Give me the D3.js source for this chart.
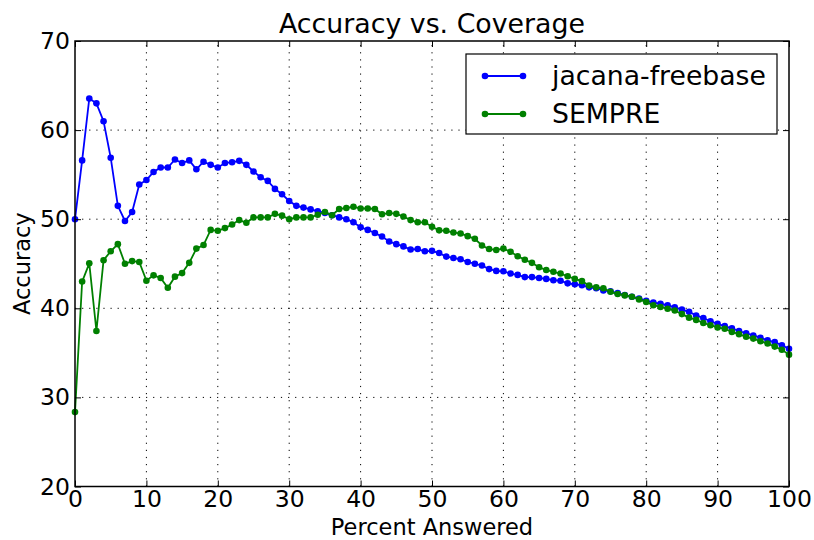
<!DOCTYPE html>
<html><head><meta charset="utf-8">
<script src="https://cdn.jsdelivr.net/npm/d3@7"></script>
<style>body{margin:0;background:#fff} text{font-family:"DejaVu Sans",sans-serif;fill:#000}</style>
</head><body><svg id="c" width="814" height="540"></svg>
<script>
const percent = [0,1,2,3,4,5,6,7,8,9,10,11,12,13,14,15,16,17,18,19,20,21,22,23,24,25,26,27,28,29,30,31,32,33,34,35,36,37,38,39,40,41,42,43,44,45,46,47,48,49,50,51,52,53,54,55,56,57,58,59,60,61,62,63,64,65,66,67,68,69,70,71,72,73,74,75,76,77,78,79,80,81,82,83,84,85,86,87,88,89,90,91,92,93,94,95,96,97,98,99,100];
const jacana = [50.0,56.6,63.55,63.0,61.0,56.9,51.5,49.8,50.8,53.9,54.4,55.3,55.8,55.8,56.7,56.3,56.6,55.6,56.45,56.1,55.8,56.3,56.4,56.55,56.1,55.35,54.7,54.3,53.4,52.8,52.05,51.5,51.3,51.1,50.9,50.7,50.45,50.2,50.0,49.65,49.1,48.8,48.45,48.05,47.5,47.2,46.95,46.6,46.65,46.4,46.45,46.2,45.8,45.65,45.5,45.2,45.0,44.8,44.4,44.2,44.15,43.9,43.75,43.5,43.5,43.4,43.3,43.15,43.1,42.8,42.7,42.6,42.35,42.25,42.0,41.9,41.7,41.5,41.3,41.1,40.85,40.65,40.5,40.35,40.1,39.85,39.6,39.2,38.9,38.55,38.25,38.0,37.75,37.45,37.2,36.95,36.7,36.4,36.2,35.85,35.45];
const sempre = [28.35,43.0,45.05,37.45,45.4,46.4,47.2,45.0,45.3,45.2,43.1,43.7,43.4,42.3,43.55,43.95,45.1,46.7,47.1,48.8,48.7,49.0,49.4,49.9,49.6,50.2,50.2,50.2,50.6,50.4,50.0,50.2,50.2,50.2,50.5,50.8,50.45,51.15,51.25,51.4,51.2,51.2,51.15,50.55,50.7,50.6,50.3,49.9,49.65,49.65,49.15,48.75,48.7,48.5,48.4,48.1,47.8,47.05,46.65,46.55,46.7,46.35,45.85,45.45,45.1,44.6,44.3,44.1,43.9,43.6,43.3,43.05,42.55,42.35,42.25,41.85,41.6,41.45,41.3,41.0,40.7,40.35,40.15,39.95,39.75,39.35,38.95,38.7,38.35,38.1,37.85,37.7,37.35,37.1,36.8,36.6,36.3,36.05,35.7,35.35,34.8];
const seriesNames = ["jacana-freebase","SEMPRE"];
const seriesColors = ["#0000ff","#008000"];
const xTicks = [0,10,20,30,40,50,60,70,80,90,100];
const yTicks = [20,30,40,50,60,70];

const W = 814, H = 540;
const m = {left:75, right:25, top:41, bottom:53.5};
const svg = d3.select("#c");
const x = d3.scaleLinear().domain([0,100]).range([m.left, W-m.right]);
const y = d3.scaleLinear().domain([20,70]).range([H-m.bottom, m.top]);

// grid
const grid = svg.append("g").attr("stroke","#000").attr("stroke-width",1).attr("stroke-dasharray","1.2,5.9");
grid.selectAll(".gx").data(xTicks.slice(1,-1)).join("line")
  .attr("x1",d=>x(d)).attr("x2",d=>x(d)).attr("y1",y(20)).attr("y2",y(70));
grid.selectAll(".gy").data(yTicks.slice(1,-1)).join("line")
  .attr("y1",d=>y(d)).attr("y2",d=>y(d)).attr("x1",x(0)).attr("x2",x(100));

// data
const series = [jacana, sempre];
const line = d3.line().x((d,i)=>x(percent[i])).y(d=>y(d));
series.forEach((s,k)=>{
  const g = svg.append("g");
  g.append("path").datum(s).attr("d",line).attr("fill","none")
    .attr("stroke",seriesColors[k]).attr("stroke-width",1.8);
  g.selectAll("circle").data(s).join("circle")
    .attr("cx",(d,i)=>x(percent[i])).attr("cy",d=>y(d)).attr("r",3.3)
    .attr("fill",seriesColors[k]);
});

// axes
const fs = 23.5;
const ax = svg.append("g").attr("transform",`translate(0,${y(20)})`)
  .call(d3.axisBottom(x).tickValues(xTicks).tickSizeInner(-6).tickSizeOuter(0).tickPadding(4).tickFormat(d3.format("d")));
const axT = svg.append("g").attr("transform",`translate(0,${y(70)})`)
  .call(d3.axisTop(x).tickValues(xTicks).tickSizeInner(-6).tickSizeOuter(0).tickFormat(""));
const ay = svg.append("g").attr("transform",`translate(${x(0)},0)`)
  .call(d3.axisLeft(y).tickValues(yTicks).tickSizeInner(-6).tickSizeOuter(0).tickPadding(5).tickFormat(d3.format("d")));
const ayR = svg.append("g").attr("transform",`translate(${x(100)},0)`)
  .call(d3.axisRight(y).tickValues(yTicks).tickSizeInner(-6).tickSizeOuter(0).tickFormat(""));
[ax,axT,ay,ayR].forEach(a=>{
  a.select(".domain").remove();
  a.selectAll(".tick line").attr("stroke","#000").attr("stroke-width",1);
  a.selectAll("text").attr("font-size",fs).attr("font-family","DejaVu Sans").attr("fill","#000");
});
svg.append("rect").attr("x",x(0)).attr("y",y(70)).attr("width",x(100)-x(0)).attr("height",y(20)-y(70))
  .attr("fill","none").attr("stroke","#000").attr("stroke-width",1.5);

// titles
svg.append("text").attr("x",(x(0)+x(100))/2).attr("y",33).attr("text-anchor","middle")
  .attr("font-size",26.8).text("Accuracy vs. Coverage");
svg.append("text").attr("x",(x(0)+x(100))/2).attr("y",535).attr("text-anchor","middle")
  .attr("font-size",22.5).text("Percent Answered");
svg.append("text").attr("transform",`translate(30,${(y(20)+y(70))/2}) rotate(-90)`).attr("text-anchor","middle")
  .attr("font-size",22.5).text("Accuracy");

// legend
const lg = svg.append("g");
lg.append("rect").attr("x",466).attr("y",54).attr("width",311).attr("height",80)
  .attr("fill","#fff").attr("stroke","#000").attr("stroke-width",1.2);
seriesNames.forEach((n,k)=>{
  const yy = 76 + k*38;
  lg.append("line").attr("x1",485).attr("x2",523).attr("y1",yy).attr("y2",yy)
    .attr("stroke",seriesColors[k]).attr("stroke-width",1.8);
  [485,523].forEach(cx=>lg.append("circle").attr("cx",cx).attr("cy",yy).attr("r",3.3).attr("fill",seriesColors[k]));
  lg.append("text").attr("x",552).attr("y",yy).attr("dy","0.35em").attr("font-size",26.7).text(n);
});
</script></body></html>
